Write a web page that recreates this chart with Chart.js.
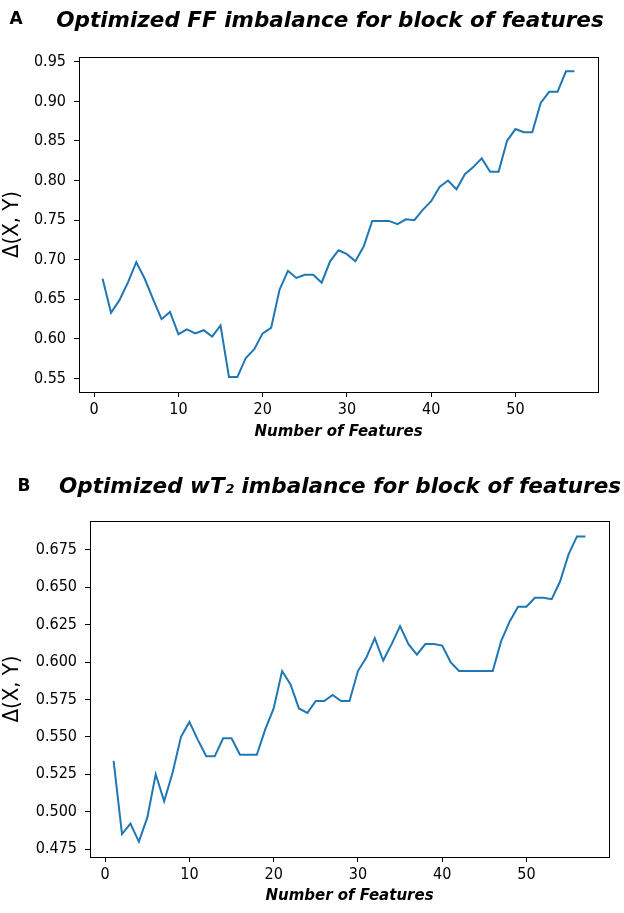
<!DOCTYPE html>
<html>
<head>
<meta charset="utf-8">
<script src="https://cdn.jsdelivr.net/npm/chart.js@4.4.0/dist/chart.umd.min.js"></script>
<style>
  html, body { margin: 0; padding: 0; background: #fff; }
  .wrap { position: relative; width: 624px; }
  #wrapA { height: 456px; }
  #wrapB { height: 457px; }
</style>
</head>
<body>
<div class="wrap" id="wrapA"><canvas id="chartA"></canvas></div>
<div class="wrap" id="wrapB"><canvas id="chartB"></canvas></div>
<script>
// number of features (x)
const features = [1, 2, 3, 4, 5, 6, 7, 8, 9, 10, 11, 12, 13, 14, 15, 16, 17, 18, 19, 20,
  21, 22, 23, 24, 25, 26, 27, 28, 29, 30, 31, 32, 33, 34, 35, 36, 37, 38, 39, 40,
  41, 42, 43, 44, 45, 46, 47, 48, 49, 50, 51, 52, 53, 54, 55, 56, 57];

// A: optimized FF imbalance
const ffImbalance = [0.676, 0.633, 0.649, 0.671, 0.697, 0.676, 0.650, 0.625, 0.634, 0.606,
  0.612, 0.607, 0.611, 0.603, 0.617, 0.552, 0.552, 0.576, 0.587, 0.607,
  0.614, 0.662, 0.686, 0.677, 0.681, 0.681, 0.671, 0.698, 0.712, 0.707,
  0.698, 0.717, 0.749, 0.749, 0.749, 0.745, 0.751, 0.750, 0.763, 0.774,
  0.792, 0.800, 0.789, 0.808, 0.817, 0.828, 0.811, 0.811, 0.850, 0.865,
  0.861, 0.861, 0.898, 0.912, 0.912, 0.938, 0.938];

// B: optimized wT2 imbalance
const wt2Imbalance = [0.534, 0.485, 0.492, 0.480, 0.496, 0.525, 0.507, 0.526, 0.550, 0.560,
  0.548, 0.537, 0.537, 0.549, 0.549, 0.538, 0.538, 0.538, 0.555, 0.569,
  0.594, 0.585, 0.569, 0.566, 0.574, 0.574, 0.578, 0.574, 0.574, 0.594,
  0.603, 0.616, 0.601, 0.612, 0.624, 0.612, 0.605, 0.612, 0.612, 0.611,
  0.600, 0.594, 0.594, 0.594, 0.594, 0.594, 0.614, 0.627, 0.637, 0.637,
  0.643, 0.643, 0.642, 0.654, 0.672, 0.684, 0.684];

// tick labels
const xTickLabels = ['0', '10', '20', '30', '40', '50'];
const yTickLabelsA = ['0.55', '0.60', '0.65', '0.70', '0.75', '0.80', '0.85', '0.90', '0.95'];
const yTickLabelsB = ['0.475', '0.500', '0.525', '0.550', '0.575', '0.600', '0.625', '0.650', '0.675'];

const tickFont = "'DejaVu Sans Condensed', 'DejaVu Sans', sans-serif";
const titleFont = "'DejaVu Sans', sans-serif";

// panel letter (A / B)
const panelLetter = {
  id: 'panelLetter',
  afterDraw(chart, args, opts) {
    const ctx = chart.ctx;
    ctx.save();
    ctx.font = 'bold 17px ' + titleFont;
    ctx.fillStyle = '#000';
    ctx.textAlign = 'center';
    ctx.textBaseline = 'middle';
    ctx.fillText(opts.text, opts.x, opts.y);
    ctx.restore();
  }
};

function makeChart(id, values, yLabels, o) {
  const frameGrid = { display: true, drawOnChartArea: false, drawTicks: false };
  return new Chart(document.getElementById(id), {
    type: 'line',
    data: {
      datasets: [{
        data: features.map((f, i) => ({ x: f, y: values[i] })),
        borderColor: '#1f77b4',
        borderWidth: 2,
        pointRadius: 0,
        tension: 0,
        fill: false
      }]
    },
    options: {
      responsive: true,
      maintainAspectRatio: false,
      animation: false,
      layout: { padding: { left: 0, right: o.padRight, top: 0, bottom: 0 } },
      plugins: {
        legend: { display: false },
        tooltip: { enabled: false },
        title: {
          display: true,
          text: o.title,
          color: '#000',
          font: { family: titleFont, size: 21.5, weight: 'bold', style: 'italic', lineHeight: 1.2 },
          padding: { top: o.titleTop, bottom: o.titleBottom }
        },
        panelLetter: { text: o.letter, x: o.letterX, y: o.letterY }
      },
      scales: {
        x: {
          type: 'linear',
          position: 'bottom',
          min: -1.8,
          max: 59.8,
          afterBuildTicks: s => { s.ticks = xTickLabels.map(t => ({ value: parseFloat(t) })); },
          afterFit: s => { s.height = o.xHeight; },
          grid: { display: true, drawOnChartArea: false, drawTicks: true, tickLength: 5, color: '#000' },
          border: { display: true, color: '#000', width: 1 },
          ticks: { color: '#000', font: { family: tickFont, size: 16 }, padding: 3, maxRotation: 0,
            callback: (v, i) => xTickLabels[i] },
          title: {
            display: true,
            text: 'Number of Features',
            color: '#000',
            font: { family: titleFont, size: 15, weight: 'bold', style: 'italic', lineHeight: 1.2 },
            padding: { top: 0, bottom: o.xTitleBottom }
          }
        },
        xTop: {
          type: 'linear',
          position: 'top',
          min: -1.8,
          max: 59.8,
          afterFit: s => { s.height = 0; },
          grid: frameGrid,
          border: { display: true, color: '#000', width: 1 },
          ticks: { display: false }
        },
        y: {
          type: 'linear',
          position: 'left',
          min: o.yMin,
          max: o.yMax,
          afterBuildTicks: s => { s.ticks = yLabels.map(t => ({ value: parseFloat(t) })); },
          afterFit: s => { s.width = o.yWidth; },
          grid: { display: true, drawOnChartArea: false, drawTicks: true, tickLength: 5, color: '#000' },
          border: { display: true, color: '#000', width: 1 },
          ticks: { color: '#000', font: { family: tickFont, size: 16 }, padding: 8,
            callback: (v, i) => yLabels[i] },
          title: {
            display: true,
            text: 'Δ(X, Y)',
            color: '#000',
            font: { family: tickFont, size: 22, lineHeight: 1.1 },
            padding: { top: 0, bottom: 0 }
          }
        },
        yRight: {
          type: 'linear',
          position: 'right',
          min: o.yMin,
          max: o.yMax,
          afterFit: s => { s.width = o.rightWidth; },
          grid: frameGrid,
          border: { display: true, color: '#000', width: 1 },
          ticks: { display: false }
        }
      }
    },
    plugins: [panelLetter]
  });
}

makeChart('chartA', ffImbalance, yTickLabelsA, {
  title: 'Optimized FF imbalance for block of features',
  letter: 'A', letterX: 16, letterY: 20,
  titleTop: 9, titleBottom: 22.2,
  padRight: -36, rightWidth: 62,
  yWidth: 79, xHeight: 64, xTitleBottom: 15,
  yMin: 0.533, yMax: 0.956
});

makeChart('chartB', wt2Imbalance, yTickLabelsB, {
  title: 'Optimized wT\u2082 imbalance for block of features',
  letter: 'B', letterX: 24, letterY: 31,
  titleTop: 19, titleBottom: 20.2,
  padRight: -56, rightWidth: 71,
  yWidth: 90, xHeight: 56, xTitleBottom: 8,
  yMin: 0.4697, yMax: 0.6943
});
</script>
</body>
</html>
